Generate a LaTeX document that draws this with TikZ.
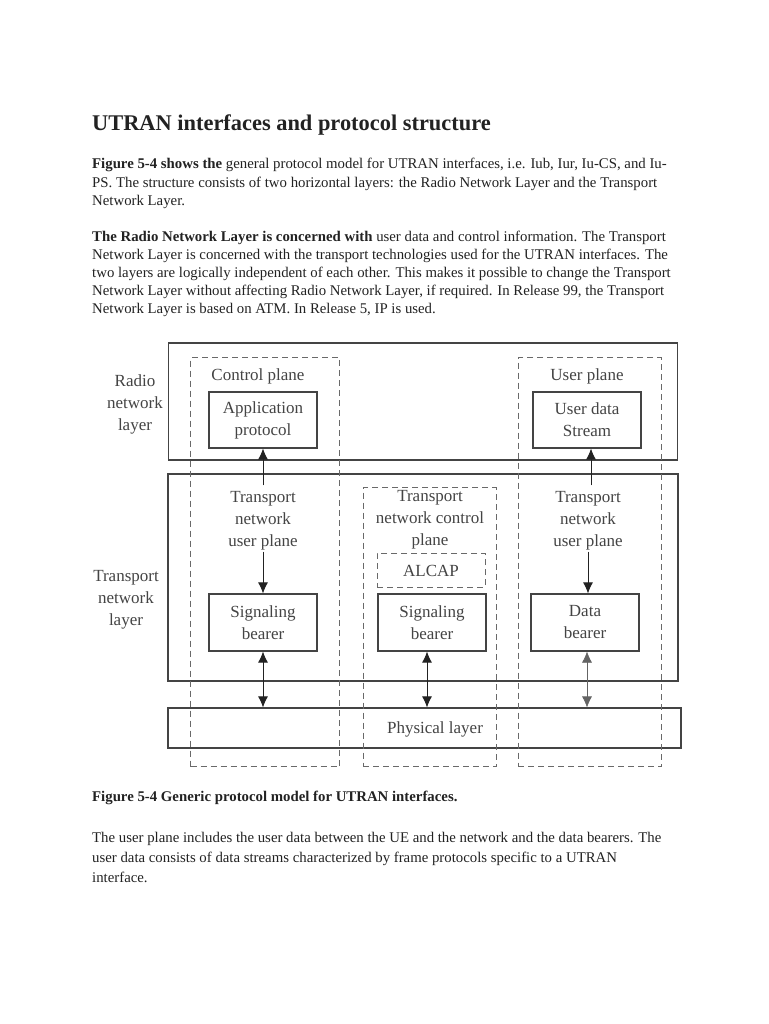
\documentclass[tikz,border=0pt]{standalone}
\usepackage{fontspec}
\setmainfont{Liberation Serif}
\usetikzlibrary{arrows.meta}
\definecolor{ink}{HTML}{222222}
\definecolor{lineg}{HTML}{444444}
\begin{document}
\begin{tikzpicture}[x=1pt,y=-1pt,
  body/.style={anchor=west,inner sep=0pt,text=ink,font=\fontsize{14.8}{17}\selectfont},
  dtext/.style={inner sep=1pt,text=lineg,align=center,font=\fontsize{17}{22}\selectfont},
  solidbox/.style={draw=lineg,line width=1.1pt,inner sep=0pt},
  dashbox/.style={draw=lineg!80,line width=1pt,dash pattern=on 6pt off 4pt,inner sep=0pt},
  arr/.style={draw=ink,line width=1pt,-{Latex[length=11pt,width=10pt]}},
  darr/.style={draw=ink,line width=1pt,{Latex[length=11pt,width=10pt]}-{Latex[length=11pt,width=10pt]}}
]
\useasboundingbox (0,0) rectangle (768,1024);
\fill[white] (0,0) rectangle (768,1024);

% heading and text
\node[body,font=\fontsize{22.4}{26}\selectfont\bfseries] (title) at (92,125) {UTRAN interfaces and protocol structure};
\node[body] (p1a) at (92,165) {\textbf{Figure 5-4 shows the} general protocol model for UTRAN interfaces, i.e. Iub, Iur, Iu-CS, and Iu-};
\node[body] (p1b) at (92,184) {PS. The structure consists of two horizontal layers: the Radio Network Layer and the Transport};
\node[body] (p1c) at (92,202) {Network Layer.};
\node[body] (p2a) at (92,238) {\textbf{The Radio Network Layer is concerned with} user data and control information. The Transport};
\node[body] (p2b) at (92,256) {Network Layer is concerned with the transport technologies used for the UTRAN interfaces. The};
\node[body] (p2c) at (92,274) {two layers are logically independent of each other. This makes it possible to change the Transport};
\node[body] (p2d) at (92,292) {Network Layer without affecting Radio Network Layer, if required. In Release 99, the Transport};
\node[body] (p2e) at (92,310) {Network Layer is based on ATM. In Release 5, IP is used.};

% layers
\node[solidbox,minimum width=509pt,minimum height=117pt] (rnl) at (423,401.5) {};
\node[solidbox,minimum width=510pt,minimum height=207pt] (tnl) at (423,577.5) {};
\node[solidbox,minimum width=513pt,minimum height=40pt] (phys) at (424.5,728) {};
\node[dtext] (physt) at (435,729) {Physical layer};

% dashed planes
\node[dashbox,minimum width=149pt,minimum height=409pt] (cp) at (265,562) {};
\node[dashbox,minimum width=133pt,minimum height=279pt] (tncp) at (429.5,627) {};
\node[dashbox,minimum width=143pt,minimum height=409pt] (up) at (589.5,562) {};
\node[dashbox,minimum width=108pt,minimum height=34pt] (alcapb) at (431,570) {};
\node[dtext] (alcap) at (431,571) {ALCAP};

% side labels
\node[dtext] (rnlt) at (135,404) {Radio\\network\\layer};
\node[dtext] (tnlt) at (126,600) {Transport\\network\\layer};

% plane titles
\node[dtext] (cpt) at (258,376) {Control plane};
\node[dtext] (upt) at (587,376) {User plane};

% boxes
\node[solidbox,dtext,minimum width=108pt,minimum height=56pt] (app) at (263,420) {Application\\protocol};
\node[solidbox,dtext,minimum width=108pt,minimum height=56pt] (uds) at (587,420) {User data\\Stream};
\node[solidbox,dtext,minimum width=108pt,minimum height=57pt] (sb1) at (263,622.5) {Signaling\\bearer};
\node[solidbox,dtext,minimum width=108pt,minimum height=57pt] (sb2) at (432,622.5) {Signaling\\bearer};
\node[solidbox,dtext,minimum width=108pt,minimum height=57pt] (db) at (585,622.5) {Data\\bearer};

% transport labels
\node[dtext] (tnu1) at (263,521) {Transport\\network\\user plane};
\node[dtext] (tnc) at (430,520) {Transport\\network control\\plane};
\node[dtext] (tnu2) at (588,521) {Transport\\network\\user plane};

% arrows
\draw[arr] ([yshift=5pt]tnu1.north) -- (app.south);
\draw[arr] (tnu1.south) -- (sb1.north);
\draw[arr] ([xshift=3pt,yshift=5pt]tnu2.north) -- ([xshift=3pt]tnu2.north |- uds.south);
\draw[arr] (tnu2.south) -- (tnu2.south |- db.north);
\draw[darr] (sb1.south) -- (sb1.south |- phys.north);
\draw[darr] ([xshift=-5pt]sb2.south) -- ([xshift=-5pt]sb2.south |- phys.north);
\draw[darr,line width=0.6pt,draw=ink!70] ([xshift=2pt]db.south) -- ([xshift=2pt]db.south |- phys.north);

% caption and closing text
\node[body,font=\fontsize{14.8}{17}\selectfont\bfseries] (cap) at (92,798) {Figure 5-4 Generic protocol model for UTRAN interfaces.};
\node[body] (p3a) at (92,839) {The user plane includes the user data between the UE and the network and the data bearers. The};
\node[body] (p3b) at (92,859) {user data consists of data streams characterized by frame protocols specific to a UTRAN};
\node[body] (p3c) at (92,877) {interface.};
\end{tikzpicture}
\end{document}
